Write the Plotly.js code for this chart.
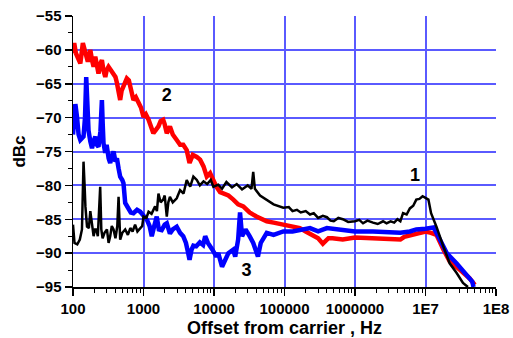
<!DOCTYPE html>
<html>
<head>
<meta charset="utf-8">
<script src="https://cdn.plot.ly/plotly-3.0.1.min.js"></script>
<style>html,body{margin:0;padding:0;background:#fff;}#chart{width:513px;height:338px;}</style>
</head>
<body>
<div id="chart"></div>
<script>
// Curve 1 (black)
const freq1 = [100,105,115,125,134,141,146,150,158,168,176,186,196,205,214,225,243,252,263,280,303,320,337,355,376,400,425,443,455,467,500,550,600,650,700,760,820,900,960,1000,1100,1180,1300,1460,1550,1630,1750,1900,2000,2140,2250,2370,2600,2960,3300,3700,4100,4600,5100,5700,6300,7100,8000,9000,9800,11500,13000,15000,18000,21000,25000,30000,34000,36000,38000,45000,56000,70000,96000,115000,130000,150000,170000,200000,230000,260000,300000,350000,400000,450000,500000,580000,670000,800000,1000000,1150000,1300000,1500000,1800000,2100000,2500000,2800000,3200000,3600000,4000000,4400000,4800000,5400000,6000000,6700000,7400000,8200000,9100000,10000000,11000000,12000000,14300000,17900000,22000000,27500000,34000000,40000000];
const dbc1 = [-85.8,-88.5,-88.7,-88,-86.5,-76.5,-80,-83.1,-86.1,-86.3,-83.8,-86,-87.5,-86.5,-86.5,-87.5,-80.2,-86.5,-87.8,-87,-86.5,-88.5,-87.5,-86,-86.5,-87.8,-86,-81.7,-86.5,-88,-87,-86.5,-87.3,-86.3,-86.8,-85.8,-86.8,-86.3,-86,-84.6,-84.8,-83.9,-84.2,-83.1,-83.8,-81.2,-82.5,-82.1,-81.5,-84.6,-82.5,-81.7,-82.5,-81.9,-80.7,-81.2,-79.2,-80.2,-78.7,-79.2,-80,-79.4,-79.8,-79.2,-80.2,-79.9,-80.5,-79.5,-80.3,-79.8,-80.6,-80,-80.5,-78,-80.5,-81.5,-82.1,-82.8,-83.3,-83.2,-83.8,-83.6,-84,-83.8,-84.3,-84.1,-84.8,-84.5,-84.7,-85.2,-85.3,-84.8,-85,-85.4,-85.3,-85.1,-85.6,-85.2,-85.5,-85.7,-85.3,-85.6,-85.3,-85.5,-85,-85.3,-84.1,-84.3,-83.4,-83,-82.1,-82,-81.6,-81.8,-82.1,-84.1,-86.1,-89,-91.5,-92.9,-94.4,-95];

// Curve 2 (red)
const freq2 = [100,104,110,114,120,127,138,145,150,160,166,176,186,196,207,220,230,245,257,270,287,300,319,345,376,400,420,445,467,490,520,580,620,650,690,720,780,850,920,1000,1080,1180,1280,1380,1500,1630,1750,1900,2000,2140,2370,2600,2960,3300,3660,4100,4500,5000,5700,6350,7100,7900,8800,10000,10800,12200,13500,16000,18800,22000,26000,32000,40000,48000,56000,70000,96000,130000,165000,200000,250000,300000,350000,420000,480000,670000,1000000,1800000,3000000,4400000,5000000,6000000,8000000,10000000,12000000,14300000,18000000,22000000,31000000,38000000,42000000,46000000,50000000];
const dbc2 = [-60.5,-59,-60.5,-61,-61.5,-62,-59,-60,-60.7,-61.5,-61.5,-60,-61.5,-62.5,-61,-62.5,-63.5,-62,-61.5,-63,-64,-63,-62.5,-63,-63.5,-64,-64.9,-66,-67.4,-66,-65.4,-64.2,-64.5,-65.4,-66.5,-67.4,-67,-67.9,-68.5,-69.9,-69.5,-70.3,-71.5,-72.3,-71.8,-71.3,-70.5,-70.3,-71,-72.3,-71.3,-72.5,-73.3,-74,-74,-74.8,-76.7,-75.5,-75.8,-76.2,-77.2,-78.7,-78.2,-79.5,-80.2,-81,-81.2,-81.5,-82.1,-82.8,-83.1,-84,-84.6,-85,-85.3,-85.5,-85.8,-86,-86.3,-86.8,-87.3,-87.8,-88.6,-87.8,-87.8,-88,-87.7,-87.8,-88,-88,-87.6,-87.4,-87,-86.8,-87,-87.3,-89.5,-91.2,-92.5,-93.2,-93.7,-94.2,-94.7];

// Curve 3 (blue)
const freq3 = [100,103,108,114,120,127,134,141,148,154,160,166,176,186,196,207,218,230,245,257,264,271,287,300,320,337,360,376,400,420,443,467,500,520,550,614,660,720,810,900,1000,1120,1220,1310,1420,1540,1650,1810,2000,2140,2370,2600,2960,3300,3660,4000,4300,4500,4800,5100,5600,6300,7000,7500,8200,8800,9500,10800,11500,13000,14500,16000,18700,20000,22000,23400,25000,28000,32000,36000,42000,46000,56000,70000,96000,130000,230000,300000,400000,670000,1000000,1800000,3000000,4400000,6000000,7400000,10000000,13000000,16000000,20000000,27500000,37000000,46000000,48000000];
const dbc3 = [-72.5,-71.3,-68,-69.9,-72.5,-73.3,-73,-72.8,-70,-64,-68,-71.9,-73.5,-74.5,-73.5,-72.8,-74,-74.3,-72,-67.4,-71,-73.8,-75.2,-74,-76,-76.7,-75.5,-75,-76.5,-76,-77.5,-78.7,-79.2,-79.7,-82.6,-83.6,-84,-84.1,-83.6,-83.9,-84.5,-85.1,-86,-87.5,-86,-84.6,-86.5,-86.6,-85.8,-85.6,-87.1,-86.5,-86.1,-87,-87.5,-88.5,-90,-91,-89.5,-88.9,-89,-88.4,-88.8,-87.5,-88.5,-88.9,-89.5,-90.5,-90,-92,-91,-90,-89.5,-90.5,-88,-84,-87.5,-86.5,-87.5,-88.5,-90.5,-88.5,-87,-87.3,-86.8,-86.8,-86.3,-86.8,-86.3,-86.5,-86.8,-86.8,-86.9,-87,-86.8,-86.5,-86.4,-86.2,-88,-90,-91.5,-93.2,-94.2,-95];

const xTickVals = [100,1000,10000,100000,1000000,10000000,100000000];
const xTickText = ['100','1000','10000','100000','1000000','1E7','1E8'];
const curveLabels = ['1','2','3'];
const labelFreq = [7100000,2140,29000];
const labelDb = [-78.7,-66.9,-92.7];

const font = {family:'"Liberation Sans", Arial, sans-serif', color:'#000', weight:'bold'};

const traces = [
  {x:freq2, y:dbc2, mode:'lines', line:{color:'#ff0000', width:4.5}, hoverinfo:'skip'},
  {x:freq3, y:dbc3, mode:'lines', line:{color:'#0000ff', width:4.5}, hoverinfo:'skip'},
  {x:freq1, y:dbc1, mode:'lines', line:{color:'#000000', width:2.5}, hoverinfo:'skip'},
  {x:labelFreq, y:labelDb, mode:'text', text:curveLabels, textfont:Object.assign({}, font, {size:18}), hoverinfo:'skip'}
];

const layout = {
  width:513, height:338,
  margin:{l:73, r:17, t:16, b:51},
  showlegend:false,
  paper_bgcolor:'#fff', plot_bgcolor:'#fff',
  font:font,
  xaxis:{
    type:'log', range:[2,8],
    tickmode:'array', tickvals:xTickVals, ticktext:xTickText,
    ticks:'outside', ticklen:7, tickwidth:1.5, tickcolor:'#000',
    showline:true, linecolor:'#000', linewidth:1.5,
    showgrid:true, gridcolor:'#5a5aff', gridwidth:2,
    zeroline:false,
    minor:{ticks:'outside', ticklen:4, tickwidth:1, tickcolor:'#000', dtick:'D1', showgrid:false},
    tickfont:Object.assign({}, font, {size:15}),
    title:{text:'Offset from carrier , Hz', font:Object.assign({}, font, {size:18}), standoff:8}
  },
  yaxis:{
    range:[-95,-55],
    tickmode:'linear', tick0:-95, dtick:5,
    ticks:'outside', ticklen:7, tickwidth:1.5, tickcolor:'#000',
    showline:true, linecolor:'#000', linewidth:1.5,
    showgrid:true, gridcolor:'#5a5aff', gridwidth:2,
    zeroline:false,
    minor:{ticks:'outside', ticklen:4, tickwidth:1, tickcolor:'#000', dtick:2.5, showgrid:false},
    tickfont:Object.assign({}, font, {size:15}),
    title:{text:'dBc', font:Object.assign({}, font, {size:17}), standoff:6}
  }
};

Plotly.newPlot('chart', traces, layout, {staticPlot:true, displayModeBar:false});
</script>
</body>
</html>
